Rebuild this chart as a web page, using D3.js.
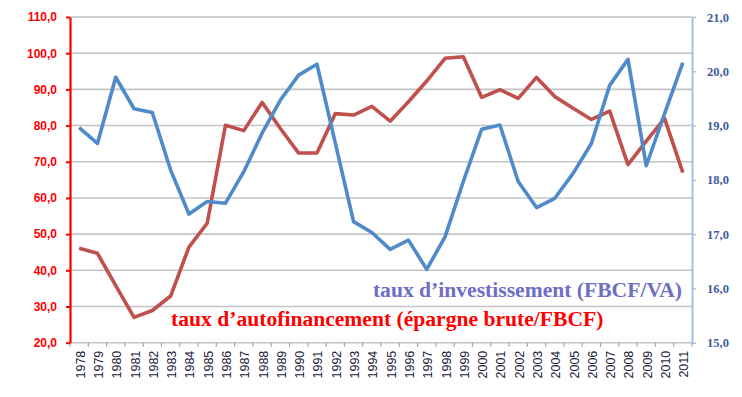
<!DOCTYPE html>
<html>
<head>
<meta charset="utf-8">
<script src="https://cdn.jsdelivr.net/npm/d3@7"></script>
<style>
  body { margin: 0; background: #fff; }
  svg { display: block; }
</style>
</head>
<body>
<svg width="742" height="397"></svg>
<script>
// years on the category axis
const years = d3.range(1978, 2012).map(String);

// taux d'autofinancement (épargne brute/FBCF), left axis
const autofin = [46.1, 44.7, 35.8, 27.0, 28.9, 32.9, 46.4, 53.0, 80.1, 78.6,
  86.4, 79.2, 72.4, 72.4, 83.3, 82.9, 85.3, 81.2, 86.6, 92.3,
  98.6, 99.0, 87.8, 89.9, 87.5, 93.3, 88.0, 84.8, 81.7, 84.0,
  69.2, 75.7, 82.0, 67.0];

// taux d'investissement (FBCF/VA), right axis
const invest = [18.96, 18.67, 19.89, 19.31, 19.24, 18.18, 17.37, 17.60, 17.57, 18.15,
  18.86, 19.47, 19.93, 20.13, 18.68, 17.23, 17.03, 16.72, 16.89, 16.35,
  16.95, 17.97, 18.93, 19.01, 17.97, 17.49, 17.66, 18.12, 18.67, 19.74,
  20.22, 18.26, 19.22, 20.16];

const leftTicks = d3.range(20, 111, 10);
const rightTicks = d3.range(15, 22, 1);

const label1 = "taux d\u2019investissement (FBCF/VA)";
const label2 = "taux d\u2019autofinancement (\u00e9pargne brute/FBCF)";

let svg = d3.select("svg");
const plotLeft = 70, plotRight = 692, plotTop = 17, plotBottom = 342.7;

let x = d3.scaleBand().domain(years).range([plotLeft, plotRight]).padding(0);
let yL = d3.scaleLinear().domain([20, 110]).range([plotBottom, plotTop]);
let yR = d3.scaleLinear().domain([15, 21]).range([plotBottom, plotTop]);
let fmt = d => d.toFixed(1).replace(".", ",");

// gridlines
svg.append("g")
  .selectAll("line")
  .data(leftTicks)
  .enter().append("line")
  .attr("x1", plotLeft).attr("x2", plotRight)
  .attr("y1", d => yL(d)).attr("y2", d => yL(d))
  .attr("stroke", "#c4c4c4")
  .attr("stroke-width", 1.6);

// x axis ticks between categories
let xAxis = svg.append("g").attr("transform", `translate(0,${plotBottom})`);
xAxis.selectAll("line")
  .data(years.concat(["end"]))
  .enter().append("line")
  .attr("x1", (d, i) => plotLeft + i * x.bandwidth())
  .attr("x2", (d, i) => plotLeft + i * x.bandwidth())
  .attr("y1", 0).attr("y2", 4)
  .attr("stroke", "#a6a6a6")
  .attr("stroke-width", 1.2);
xAxis.selectAll("text")
  .data(years)
  .enter().append("text")
  .attr("transform", d => `translate(${x(d) + x.bandwidth() / 2 + 5.5},8) rotate(-90)`)
  .attr("text-anchor", "end")
  .attr("font-family", "Liberation Sans, Arial, sans-serif")
  .attr("font-size", "12.5px")
  .attr("fill", "#1a1a3a")
  .text(d => d);

// left axis
let gL = svg.append("g")
  .attr("transform", `translate(${plotLeft},0)`)
  .call(d3.axisLeft(yL).tickValues(leftTicks).tickSize(4).tickSizeOuter(0).tickPadding(9).tickFormat(fmt));
gL.select(".domain").attr("stroke", "#ff0000").attr("stroke-width", 2.2);
gL.selectAll(".tick line").attr("stroke", "#ff0000").attr("stroke-width", 2);
gL.selectAll(".tick text")
  .attr("fill", "#ff0000")
  .attr("font-family", "Liberation Sans, Arial, sans-serif")
  .attr("font-weight", "bold")
  .attr("font-size", "12px");

// right axis
let gR = svg.append("g")
  .attr("transform", `translate(${plotRight},0)`)
  .call(d3.axisRight(yR).tickValues(rightTicks).tickSize(4).tickSizeOuter(0).tickPadding(11).tickFormat(fmt));
gR.select(".domain").attr("stroke", "#9dc3e6").attr("stroke-width", 2);
gR.selectAll(".tick line").attr("stroke", "#9dc3e6").attr("stroke-width", 1.5);
gR.selectAll(".tick text")
  .attr("fill", "#3f5c9c")
  .attr("font-family", "Liberation Serif, Times New Roman, serif")
  .attr("font-weight", "bold")
  .attr("font-size", "12.5px");

// lines
let lineL = d3.line()
  .x((d, i) => x(years[i]) + x.bandwidth() / 2)
  .y(d => yL(d));
let lineR = d3.line()
  .x((d, i) => x(years[i]) + x.bandwidth() / 2)
  .y(d => yR(d));

svg.append("path")
  .datum(autofin)
  .attr("d", lineL)
  .attr("fill", "none")
  .attr("stroke", "#c0504d")
  .attr("stroke-width", 3.6)
  .attr("stroke-linejoin", "round");

svg.append("path")
  .datum(invest)
  .attr("d", lineR)
  .attr("fill", "none")
  .attr("stroke", "#4f8ac9")
  .attr("stroke-width", 3.6)
  .attr("stroke-linejoin", "round");

// annotations
svg.append("text")
  .attr("x", 682).attr("y", 296.5)
  .attr("text-anchor", "end")
  .attr("font-family", "Liberation Serif, Times New Roman, serif")
  .attr("font-weight", "bold")
  .attr("font-size", "21.6px")
  .attr("fill", "#6e6ec4")
  .text(label1);

svg.append("text")
  .attr("x", 171).attr("y", 326)
  .attr("font-family", "Liberation Serif, Times New Roman, serif")
  .attr("font-weight", "bold")
  .attr("font-size", "21.6px")
  .attr("fill", "#ff0000")
  .text(label2);
</script>
</body>
</html>
